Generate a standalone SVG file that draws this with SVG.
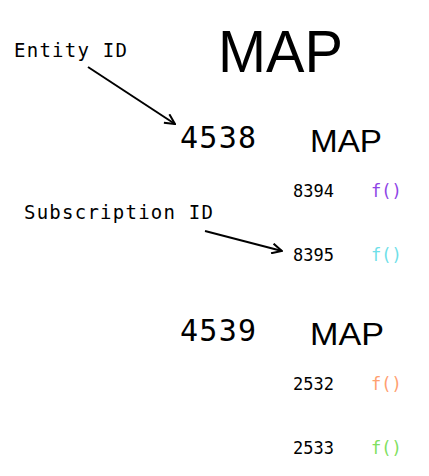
<svg xmlns="http://www.w3.org/2000/svg" width="429" height="476" viewBox="0 0 429 476">
<style>
.mono{font-family:"DejaVu Sans Mono","Liberation Mono",monospace;fill:#000}
.sans{font-family:"Liberation Sans",Arial,sans-serif;fill:#000}
.id{font-size:30px}
.sub{font-size:17px}
.map{font-size:32px}
.conn{stroke:#000;stroke-width:2;fill:none}
</style>
<defs>
<marker id="arr" viewBox="0 0 12 12" refX="11" refY="6" markerWidth="12" markerHeight="12" markerUnits="userSpaceOnUse" orient="auto">
<path d="M1,1 L11,6 L1,11" fill="none" stroke="#000" stroke-width="2"/>
</marker>
</defs>
<rect width="429" height="476" fill="#fff"/>
<g id="title"><text class="sans" x="218" y="72" font-size="59" textLength="125" lengthAdjust="spacingAndGlyphs">MAP</text></g>
<g id="label-entity"><text class="mono" x="14" y="57" font-size="19" textLength="113">Entity ID</text></g>
<g id="label-subscription"><text class="mono" x="24" y="219" font-size="19" textLength="189">Subscription ID</text></g>
<g id="entity-4538">
<text class="mono id" x="180" y="148" textLength="76">4538</text>
<text class="sans map" x="310" y="152" textLength="72" lengthAdjust="spacingAndGlyphs">MAP</text>
<g id="sub-8394"><text class="mono sub" x="293" y="197" textLength="41">8394</text><text class="mono sub" x="371" y="197" style="fill:#8e44e6">f()</text></g>
<g id="sub-8395"><text class="mono sub" x="293" y="261" textLength="41">8395</text><text class="mono sub" x="371" y="261" style="fill:#6fdfe9">f()</text></g>
</g>
<g id="entity-4539">
<text class="mono id" x="180" y="341" textLength="76">4539</text>
<text class="sans map" x="310" y="345" textLength="74" lengthAdjust="spacingAndGlyphs">MAP</text>
<g id="sub-2532"><text class="mono sub" x="293" y="390" textLength="41">2532</text><text class="mono sub" x="371" y="390" style="fill:#ffa070">f()</text></g>
<g id="sub-2533"><text class="mono sub" x="293" y="454" textLength="41">2533</text><text class="mono sub" x="371" y="454" style="fill:#80e060">f()</text></g>
</g>
<g id="connectors">
<line class="conn" x1="88" y1="67" x2="175" y2="124" marker-end="url(#arr)"/>
<line class="conn" x1="205" y1="231" x2="282" y2="251" marker-end="url(#arr)"/>
</g>
</svg>
